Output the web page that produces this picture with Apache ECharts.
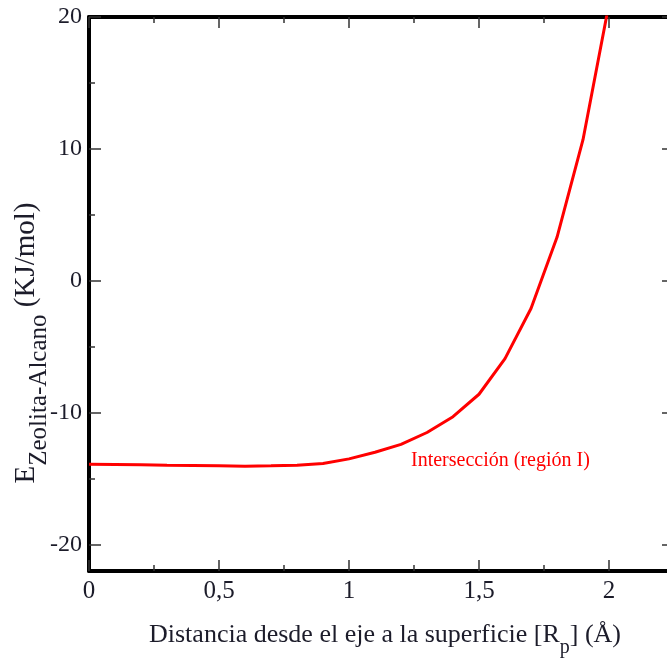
<!DOCTYPE html>
<html>
<head>
<meta charset="utf-8">
<script src="https://cdn.jsdelivr.net/npm/echarts@6/dist/echarts.min.js"></script>
<style>
  html, body { margin: 0; padding: 0; background: #fff; overflow: hidden; }
  #chart { width: 680px; height: 670px; }
</style>
</head>
<body>
<div id="chart"></div>
<script>
// distance from the axis to the surface (Å)
const distance = [0, 0.1, 0.2, 0.3, 0.4, 0.5, 0.6, 0.7, 0.8, 0.9, 1.0, 1.1, 1.2, 1.3, 1.4, 1.5, 1.6, 1.7, 1.8, 1.9, 2.0];
// E zeolita-alcano (KJ/mol)
const energy = [-13.9, -13.92, -13.95, -13.98, -14.0, -14.02, -14.05, -14.02, -13.98, -13.85, -13.5, -13.0, -12.4, -11.5, -10.3, -8.6, -5.9, -2.1, 3.3, 10.7, 21.0];

const xMajor = [0, 0.5, 1, 1.5, 2];
const xMinor = [0.25, 0.75, 1.25, 1.75];
const yMajor = [-20, -10, 0, 10, 20];
const yMinor = [-15, -5, 5, 15];

const serif = "'Liberation Serif', 'DejaVu Serif', serif";
const tickColor = "#333";
const textColor = "#1c1c2a";

const chart = echarts.init(document.getElementById("chart"));

const base = (pos, isX) => ({
  type: "value",
  position: pos,
  min: isX ? 0 : -22,
  max: isX ? 2.25 : 20,
  splitLine: { show: false },
});

const frameLine = { show: true, onZero: false, lineStyle: { color: "#000", width: 4 } };
const noLine = { show: false, onZero: false };
const ticks = (vals, len) => ({ show: true, inside: true, length: len, customValues: vals, lineStyle: { color: tickColor, width: 1.5 } });

const xAxes = [
  {
    ...base("bottom", true),
    axisLine: frameLine,
    axisTick: ticks(xMajor, 11),
    axisLabel: {
      customValues: xMajor, margin: 8, color: textColor, fontFamily: serif, fontSize: 25,
      formatter: (v) => String(v).replace(".", ","),
    },
  },
  { ...base("bottom", true), axisLine: noLine, axisTick: ticks(xMinor, 6), axisLabel: { show: false } },
  { ...base("top", true), axisLine: frameLine, axisTick: ticks(xMajor, 11), axisLabel: { show: false } },
  { ...base("top", true), axisLine: noLine, axisTick: ticks(xMinor, 6), axisLabel: { show: false } },
];

const yAxes = [
  {
    ...base("left", false),
    axisLine: frameLine,
    axisTick: ticks(yMajor, 12),
    axisLabel: { customValues: yMajor, margin: 7, color: textColor, fontFamily: serif, fontSize: 24 },
  },
  { ...base("left", false), axisLine: noLine, axisTick: ticks(yMinor, 6), axisLabel: { show: false } },
  { ...base("right", false), axisLine: frameLine, axisTick: ticks(yMajor, 12), axisLabel: { show: false } },
  { ...base("right", false), axisLine: noLine, axisTick: ticks(yMinor, 6), axisLabel: { show: false } },
];

chart.setOption({
  animation: false,
  grid: { left: 89, right: 6, top: 17, bottom: 99 },
  xAxis: xAxes,
  yAxis: yAxes,
  series: [
    {
      type: "line",
      xAxisIndex: 0,
      yAxisIndex: 0,
      data: distance.map((d, i) => [d, energy[i]]),
      showSymbol: false,
      smooth: false,
      lineStyle: { color: "#ff0000", width: 3 },
    },
  ],
  graphic: [
    {
      type: "text",
      x: 411,
      y: 461,
      style: {
        text: "Intersección (región I)",
        fill: "#ff0000",
        font: "20px " + serif,
        verticalAlign: "middle",
      },
    },
    {
      type: "text",
      x: 385,
      y: 640,
      style: {
        text: "{m|Distancia desde el eje a la superficie [R}{s|p}{m|] (Å)}",
        align: "center",
        verticalAlign: "middle",
        rich: {
          m: { fontFamily: serif, fontSize: 26, fill: textColor, lineHeight: 36, verticalAlign: "top" },
          s: { fontFamily: serif, fontSize: 20, fill: textColor, lineHeight: 36, verticalAlign: "bottom" },
        },
      },
    },
    {
      type: "text",
      x: 32,
      y: 343,
      rotation: Math.PI / 2,
      style: {
        text: "{m|E}{s|Zeolita-Alcano}{m| (KJ/mol)}",
        align: "center",
        verticalAlign: "middle",
        rich: {
          m: { fontFamily: serif, fontSize: 29, fill: textColor, lineHeight: 40, verticalAlign: "top" },
          s: { fontFamily: serif, fontSize: 25, fill: textColor, lineHeight: 40, verticalAlign: "bottom" },
        },
      },
    },
  ],
});
</script>
</body>
</html>
